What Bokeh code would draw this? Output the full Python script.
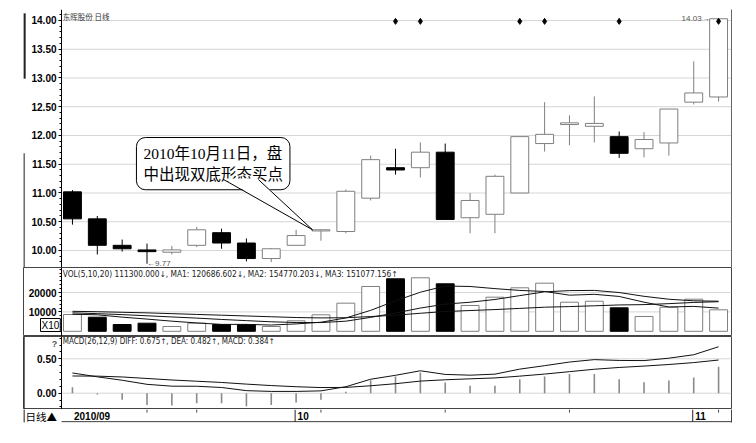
from bokeh.plotting import figure
from bokeh.layouts import column
from bokeh.models import (Range1d, FixedTicker, Label, LinearAxis, BoxAnnotation,
                          ColumnDataSource, NumeralTickFormatter)
from bokeh.core.properties import value
from bokeh.embed import file_html
from bokeh.resources import INLINE

# ---------------- data ----------------
dates = ["2010-09-15", "2010-09-16", "2010-09-17", "2010-09-20", "2010-09-21",
         "2010-09-27", "2010-09-28", "2010-09-29", "2010-09-30", "2010-10-08",
         "2010-10-11", "2010-10-12", "2010-10-13", "2010-10-14", "2010-10-15",
         "2010-10-18", "2010-10-19", "2010-10-20", "2010-10-21", "2010-10-22",
         "2010-10-25", "2010-10-26", "2010-10-27", "2010-10-28", "2010-10-29",
         "2010-11-01", "2010-11-02"]
open_ = [11.02, 10.55, 10.09, 10.01, 9.97, 10.09, 10.31, 10.13, 9.86, 10.09,
         10.34, 10.33, 10.91, 11.44, 11.44, 11.71, 10.57, 10.63, 11.00, 11.86,
         12.19, 12.16, 11.98, 11.77, 11.87, 12.58, 12.67]
high = [11.05, 10.60, 10.19, 10.12, 10.08, 10.41, 10.38, 10.21, 10.04, 10.36,
        10.37, 11.06, 11.65, 11.77, 11.88, 11.86, 11.00, 11.32, 11.99, 12.58,
        12.35, 12.68, 12.07, 12.06, 12.46, 13.29, 14.03]
low = [10.45, 9.93, 9.98, 9.77, 9.93, 10.06, 10.03, 9.81, 9.80, 10.08,
       10.17, 10.30, 10.87, 11.32, 11.27, 10.54, 10.30, 10.30, 11.00, 11.72,
       11.83, 11.88, 11.61, 11.62, 11.65, 12.54, 12.59]
close = [10.55, 10.09, 10.03, 9.98, 10.01, 10.36, 10.13, 9.86, 10.03, 10.26,
         10.36, 11.03, 11.58, 11.40, 11.71, 10.54, 10.87, 11.29, 11.98, 12.02,
         12.22, 12.21, 11.69, 11.93, 12.46, 12.74, 14.03]
volume = [8660, 7270, 3500, 4180, 2470, 4180, 3500, 3500, 2470, 5410,
          8500, 14500, 23100, 27060, 27580, 24480, 13300, 17580, 22420, 24800,
          15000, 15500, 12100, 7630, 12420, 16550, 11080]
vol_down = [0, 1, 1, 1, 0, 0, 1, 1, 0, 0, 0, 0, 0, 1, 0, 1, 0, 0, 0, 0,
            0, 0, 1, 0, 0, 0, 0]
ma5 = [8800, 8500, 7300, 6300, 5216, 4320, 3566, 3566, 3224, 3812,
       4676, 6876, 10796, 15714, 20148, 23344, 23104, 22000, 21072, 20516,
       18620, 19060, 17964, 15006, 12530, 12840, 11956]
ma10 = [9500, 9100, 8600, 8000, 7400, 6800, 6100, 5500, 4900, 4514,
        4498, 5221, 7181, 9469, 11980, 14010, 14990, 16398, 18393, 20332,
        20982, 21082, 19982, 18039, 16523, 15730, 15508]
ma20 = [10300, 10100, 9800, 9500, 9100, 8700, 8300, 7900, 7500, 7100,
        6900, 7000, 7600, 8300, 9300, 10200, 10700, 11200, 11800, 12423,
        12740, 13152, 13582, 13754, 14252, 14870, 15249]
diff = [0.294, 0.238, 0.188, 0.129, 0.102, 0.101, 0.083, 0.037, 0.026, 0.026,
        0.034, 0.094, 0.203, 0.260, 0.326, 0.273, 0.262, 0.277, 0.350, 0.400,
        0.453, 0.488, 0.476, 0.474, 0.509, 0.559, 0.675]
dea = [0.250, 0.248, 0.236, 0.214, 0.192, 0.174, 0.156, 0.132, 0.111, 0.094,
       0.082, 0.084, 0.108, 0.138, 0.176, 0.195, 0.209, 0.222, 0.248, 0.278,
       0.313, 0.348, 0.374, 0.394, 0.417, 0.445, 0.482]
macd = [0.087, -0.020, -0.096, -0.170, -0.180, -0.145, -0.145, -0.190, -0.170, -0.135,
        -0.096, 0.020, 0.190, 0.243, 0.300, 0.155, 0.107, 0.110, 0.204, 0.243,
        0.280, 0.280, 0.204, 0.160, 0.184, 0.228, 0.384]

price_ticks = [10.0, 10.5, 11.0, 11.5, 12.0, 12.5, 13.0, 13.5, 14.0]
vol_ticks = [10000, 20000]
macd_ticks = [0.0, 0.5]
date_tick_idx = [0, 9, 25]
date_tick_labels = ["2010/09", "10", "11"]
week_tick_idx = [3, 5, 10, 15, 20, 26]
info_idx = [13, 14, 18, 19, 22, 26]
title_text = "东晖股份 日线"
vol_text = "VOL(5,10,20) 111300.000↓, MA1: 120686.602↓, MA2: 154770.203↓, MA3: 151077.156↑"
macd_text = "MACD(26,12,9) DIFF: 0.675↑, DEA: 0.482↑, MACD: 0.384↑"
callout_text = "2010年10月11日，盘\n中出现双底形态买点"
callout_idx = 10
strip_label = "日线▲"

# ---------------- helpers ----------------
W = 743
ML, MR = 23, 12
X0, X_AXIS, X1 = -1.97, -0.44, 26.52
UPC = "#7f7f7f"
GRID = "#d6d6d6"
xr = Range1d(X0, X1)
n = len(dates)
idx = list(range(n))


def style_axis(ax):
    ax.fixed_location = X_AXIS
    ax.axis_line_color = "black"
    ax.major_tick_line_color = "black"
    ax.minor_tick_line_color = "black"
    ax.major_tick_out = 3
    ax.major_tick_in = 0
    ax.minor_tick_out = 2
    ax.minor_tick_in = 0
    ax.major_label_standoff = 2
    ax.major_label_text_font = "Liberation Sans"
    ax.major_label_text_font_style = "bold"
    ax.major_label_text_font_size = "10px"
    ax.major_label_text_color = "black"


def make_fig(h, y0, y1, top=0, bottom=0):
    p = figure(width=W, height=h, x_range=xr, y_range=Range1d(y0, y1),
               output_backend="svg", toolbar_location=None,
               x_axis_location=None, min_border_left=ML, min_border_right=MR,
               min_border_top=top, min_border_bottom=bottom)
    p.xgrid.visible = False
    p.ygrid.visible = False
    p.background_fill_color = "white"
    p.border_fill_color = "white"
    style_axis(p.yaxis[0])
    return p


def right_border(p, color="#666"):
    p.add_layout(LinearAxis(ticker=FixedTicker(ticks=[]), major_label_text_font_size="0px",
                            axis_line_color=color, major_tick_line_color=None,
                            minor_tick_line_color=None), "right")


def hgrid(p, ticks):
    p.segment(x0=[X_AXIS] * len(ticks), y0=ticks, x1=[X1] * len(ticks), y1=ticks,
              line_color=GRID, line_width=1, level="underlay")


def left_bar(p, bottom, top, width=1):
    p.add_layout(BoxAnnotation(left=0, right=width, bottom=bottom, top=top,
                               left_units="screen", right_units="screen",
                               bottom_units="screen", top_units="screen",
                               fill_color="#222", fill_alpha=1.0,
                               line_color="#222", line_width=1))


mono = "DejaVu Sans Condensed"

# ---------------- price panel ----------------
p1 = make_fig(267, 9.7043, 14.1913, top=9)
p1.outline_line_color = None
p1.yaxis.ticker = FixedTicker(ticks=price_ticks,
                              minor_ticks=[round(9.8 + 0.1 * i, 2) for i in range(44)])
p1.yaxis.formatter = NumeralTickFormatter(format="0.00")
right_border(p1)
hgrid(p1, price_ticks)

up = [c >= o for o, c in zip(open_, close)]
src = ColumnDataSource(dict(
    x=idx, high=high, low=low,
    top=[max(o, c) for o, c in zip(open_, close)],
    bottom=[min(o, c) for o, c in zip(open_, close)],
    fill=["white" if u else "black" for u in up],
    line=[UPC if u else "black" for u in up],
))
p1.segment(x0="x", y0="low", x1="x", y1="high", source=src, line_color="line", line_width=1)
p1.vbar(x="x", top="top", bottom="bottom", width=0.72, source=src,
        fill_color="fill", line_color="line", line_width=1)

p1.scatter(x=info_idx, y=[13.985] * len(info_idx), marker="diamond", size=6,
           color="black")

p1.text(x=[3], y=[low[3]], text=["←" + f"{low[3]:.2f}"], text_font=value("Liberation Sans"),
        text_font_size="8px", text_color="#555", text_align="left", text_baseline="middle")
p1.text(x=[n - 1 - 0.36], y=[high[-1]], text=[f"{high[-1]:.2f}→"],
        text_font=value("Liberation Sans"), text_font_size="8px", text_color="#555",
        text_align="right", text_baseline="middle")

p1.add_layout(Label(x=X_AXIS + 0.05, y=14.17, text=title_text,
                    text_font="Noto Sans CJK SC", text_font_size="7.5px",
                    text_color="#333", text_baseline="top", text_align="left"))

# callout
tx = callout_idx - 0.34
ty = close[callout_idx]
p1.patch(x=[6.08, tx, 7.48], y=[11.25, ty, 11.25], fill_color="white", line_color=None,
         level="overlay")
p1.segment(x0=[6.08, 7.48], y0=[11.235, 11.235], x1=[tx, tx], y1=[ty, ty],
           line_color="black", line_width=1, level="overlay")
p1.add_layout(Label(x=2.575, y=11.965, text=callout_text,
                    text_font="Liberation Serif, Noto Sans CJK SC", text_font_size="15.5px",
                    text_color="black", text_align="left", text_baseline="top",
                    text_line_height=1.25,
                    background_fill_color="white", border_line_color="black",
                    border_line_width=1, border_radius=9, padding=7))
left_bar(p1, 0, 114)
left_bar(p1, 189, 254, width=2)

# ---------------- volume panel ----------------
p2 = make_fig(69, -2680, 32887)
p2.outline_line_color = "#444"
p2.yaxis.ticker = FixedTicker(ticks=vol_ticks, minor_ticks=list(range(0, 32001, 2000)))
p2.yaxis.formatter = NumeralTickFormatter(format="0")
hgrid(p2, vol_ticks)
vsrc = ColumnDataSource(dict(
    x=idx, v=volume,
    fill=["black" if d else "white" for d in vol_down],
    line=["black" if d else UPC for d in vol_down],
))
p2.vbar(x="x", top="v", bottom=0, width=0.72, source=vsrc, fill_color="fill",
        line_color="line", line_width=1)
for m in (ma20, ma10, ma5):
    p2.line(idx, m, line_color="#111", line_width=1)
p2.add_layout(Label(x=X_AXIS + 0.05, y=32300, text=vol_text,
                    text_font=mono, text_font_size="8.3px", text_color="#222",
                    text_baseline="top", text_align="left"))
p2.add_layout(Label(x=17, y=5, x_units="screen", y_units="screen", text="X10",
                    text_font="Liberation Sans", text_font_size="10px", text_color="black",
                    text_baseline="bottom", text_align="left",
                    background_fill_color="white", border_line_color="black", padding=1))

# ---------------- MACD panel ----------------
p3 = make_fig(73, -0.2369, 0.8241)
p3.outline_line_color = "#444"
p3.yaxis.ticker = FixedTicker(ticks=macd_ticks,
                              minor_ticks=[round(-0.2 + 0.1 * i, 2) for i in range(11)])
p3.yaxis.formatter = NumeralTickFormatter(format="0.00")
hgrid(p3, macd_ticks)
p3.segment(x0=idx, y0=[0] * n, x1=idx, y1=macd, line_color="#8a8a8a", line_width=1.6)
p3.line(idx, diff, line_color="#111", line_width=1)
p3.line(idx, dea, line_color="#111", line_width=1)
p3.add_layout(Label(x=X_AXIS + 0.05, y=0.81, text=macd_text,
                    text_font=mono, text_font_size="8px", text_color="#222",
                    text_baseline="top", text_align="left"))
p3.add_layout(Label(x=31, y=66, x_units="screen", y_units="screen", text="?",
                    text_font="Liberation Sans", text_font_style="bold",
                    text_font_size="9px", text_color="#555",
                    text_baseline="middle", text_align="center"))
left_bar(p3, 0, 73, width=1)

# ---------------- date strip ----------------
p4 = figure(width=W, height=20, x_range=xr, y_range=Range1d(-0.06, 1),
            output_backend="svg", toolbar_location=None, x_axis_location=None,
            min_border_left=ML, min_border_right=MR, min_border_top=0, min_border_bottom=7)
p4.xgrid.visible = False
p4.ygrid.visible = False
p4.outline_line_color = None
p4.yaxis.visible = False
right_border(p4, "#444")
left_bar(p4, 0, 13)
p4.segment(x0=[X_AXIS], y0=[0], x1=[X1], y1=[0], line_color="#222", line_width=1.2)
p4.add_layout(Label(x=2, y=6.5, x_units="screen", y_units="screen", text=strip_label,
                    text_font="Noto Sans CJK SC", text_font_size="10.5px",
                    text_color="black", text_align="left", text_baseline="middle"))
p4.segment(x0=[i - 0.04 for i in date_tick_idx[1:]], y0=[0] * (len(date_tick_idx) - 1),
           x1=[i - 0.04 for i in date_tick_idx[1:]], y1=[1] * (len(date_tick_idx) - 1),
           line_color="#222", line_width=1)
p4.segment(x0=week_tick_idx, y0=[0.75] * len(week_tick_idx), x1=week_tick_idx,
           y1=[1] * len(week_tick_idx), line_color="#444", line_width=1)
p4.text(x=[i + 0.06 for i in date_tick_idx], y=[0.45] * len(date_tick_idx),
        text=date_tick_labels, text_font=value("Liberation Sans"), text_font_style="bold",
        text_font_size="10px", text_color="black", text_align="left",
        text_baseline="middle")

layout = column(p1, p2, p3, p4, spacing=0)
open("out.html", "w").write(file_html(layout, INLINE))
